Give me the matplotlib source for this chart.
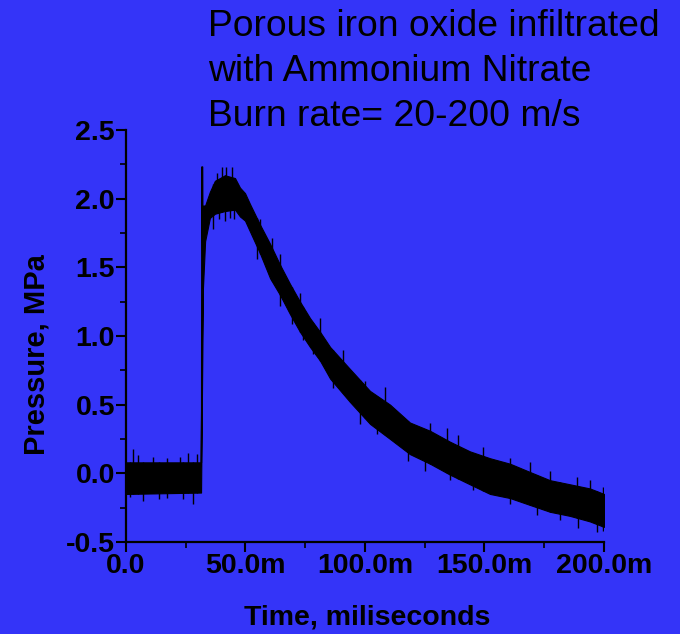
import matplotlib
matplotlib.use("Agg")

import matplotlib.pyplot as plt
import numpy as np

# Colours
C_BG = "#3434f8"
C_INK = "#000000"

plt.rcParams["font.family"] = ["Liberation Sans", "DejaVu Sans"]

# Pressure trace, read as an envelope of the noisy signal (time in ms, MPa)
time_ms = [0.0, 31.4, 32.2, 33.1, 35.1, 37.2, 41.4, 45.6, 47.7, 49.8, 51.9,
           56.1, 60.3, 64.4, 68.6, 72.8, 77.0, 81.2, 85.4, 93.7, 102.1,
           110.5, 118.8, 127.2, 135.6, 143.9, 152.3, 160.7, 169.0, 177.4,
           185.8, 194.1, 200.0]
p_upper = [0.08, 0.08, 1.95, 1.95, 2.05, 2.13, 2.17, 2.15, 2.08, 2.04, 1.96,
           1.81, 1.67, 1.52, 1.38, 1.25, 1.13, 1.03, 0.92, 0.76, 0.60,
           0.50, 0.37, 0.31, 0.23, 0.16, 0.11, 0.07, 0.01, -0.05,
           -0.08, -0.11, -0.15]
p_lower = [-0.15, -0.14, 1.35, 1.69, 1.86, 1.89, 1.91, 1.92, 1.87, 1.84, 1.76,
           1.60, 1.42, 1.30, 1.16, 1.03, 0.92, 0.82, 0.69, 0.52, 0.36,
           0.25, 0.14, 0.07, -0.01, -0.08, -0.15, -0.18, -0.23, -0.28,
           -0.31, -0.35, -0.39]

# ignition jump
rise_t = [31.4, 31.7, 31.8, 32.0, 32.2]
rise_p = [0.05, 0.45, 2.23, 2.23, 1.35]

# noise spikes poking out above the band (time, tip)
up_t = [2.8, 4.9, 11.4, 17.0, 22.6, 26.1, 29.8, 37.9, 40.0, 41.8, 44.2,
        56.1, 61.0, 64.4, 72.8, 81.2, 90.7, 100.0, 108.4, 127.2, 134.2,
        139.1, 149.5, 160.7, 169.0, 177.4, 188.6, 194.1, 199.7]
up_p = [0.18, 0.13, 0.12, 0.11, 0.12, 0.15, 0.14, 2.19, 2.23, 2.23,
        2.23, 1.85, 1.71, 1.60, 1.31, 1.13, 0.90, 0.67, 0.63, 0.37,
        0.33, 0.28, 0.19, 0.11, 0.08, 0.02, -0.03, -0.05, -0.10]

# noise spikes poking out below the band (time, tip)
down_t = [1.7, 7.2, 13.9, 17.0, 24.0, 27.9, 36.5, 38.9, 41.4, 43.5, 45.2,
          54.7, 64.4, 69.3, 74.2, 78.4, 86.7, 97.9, 104.9, 118.1, 125.1,
          135.6, 145.3, 160.7, 171.8, 181.6, 189.3, 197.0, 199.7]
down_p = [-0.17, -0.20, -0.19, -0.18, -0.19, -0.22, 1.78, 1.85, 1.84,
          1.86, 1.85, 1.56, 1.22, 1.09, 0.97, 0.87, 0.62, 0.36, 0.29,
          0.09, 0.02, -0.05, -0.12, -0.22, -0.30, -0.34, -0.40,
          -0.43, -0.42]

x_ticks = [0, 50, 100, 150, 200]
x_labels = ["0.0", "50.0m", "100.0m", "150.0m", "200.0m"]
y_ticks = [-0.5, 0.0, 0.5, 1.0, 1.5, 2.0, 2.5]

fig = plt.figure(figsize=(6.8, 6.34), dpi=100)
fig.patch.set_facecolor(C_BG)
ax = fig.add_axes([0.1853, 0.1451, 0.7029, 0.6499])
ax.set_facecolor(C_BG)

ax.fill_between(time_ms, p_lower, p_upper, color=C_INK, linewidth=0.8)
ax.plot(rise_t, rise_p, color=C_INK, linewidth=1.2)
# each spike starts inside the band and runs out to its tip
ax.vlines(up_t, np.interp(up_t, time_ms, p_lower), up_p,
          color=C_INK, linewidth=1.0)
ax.vlines(down_t, down_p, np.interp(down_t, time_ms, p_upper),
          color=C_INK, linewidth=1.0)

ax.set_xlim(0, 200)
ax.set_ylim(-0.5, 2.5)

for side in ("top", "right"):
    ax.spines[side].set_visible(False)
for side in ("left", "bottom"):
    ax.spines[side].set_linewidth(1.6)
    ax.spines[side].set_color(C_INK)

ax.set_xticks(x_ticks)
ax.set_xticklabels(x_labels)
ax.set_xticks([25, 75, 125, 175], minor=True)
ax.set_yticks(y_ticks)
ax.set_yticklabels([f"{v:.1f}" for v in y_ticks])
ax.set_yticks([-0.25, 0.25, 0.75, 1.25, 1.75, 2.25], minor=True)

ax.tick_params(which="major", direction="out", length=7, width=1.5,
               labelsize=20.5, pad=1, colors=C_INK)
ax.tick_params(which="minor", direction="out", length=4, width=1.2,
               colors=C_INK)
for lab in ax.get_xticklabels() + ax.get_yticklabels():
    lab.set_fontweight("bold")

fig.text(0.540, 0.026, "Time, miliseconds", fontsize=20.5, fontweight="bold",
         ha="center", va="center")
fig.text(0.053, 0.44, "Pressure, MPa", fontsize=21, fontweight="bold",
         rotation=90, ha="center", va="center")

# header lines
for i, line in enumerate(["Porous iron oxide infiltrated",
                          "with Ammonium Nitrate",
                          "Burn rate= 20-200 m/s"]):
    fig.text(0.306, 1 - (27 + 44.5 * i) / 634, line, fontsize=26.8,
             ha="left", va="center")

fig.savefig("out.png", dpi=100, facecolor=C_BG)
